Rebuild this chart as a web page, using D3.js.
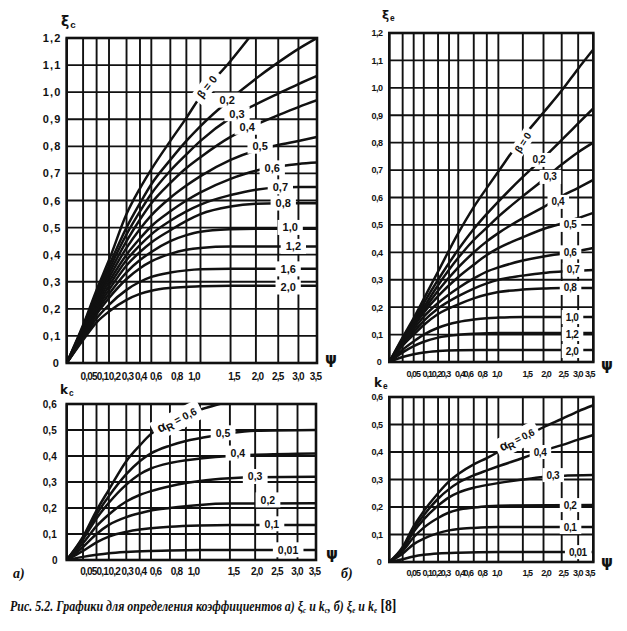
<!DOCTYPE html>
<html><head><meta charset="utf-8">
<script src="https://cdn.jsdelivr.net/npm/d3@7"></script>
<style>body{margin:0;background:#fff}svg{display:block}</style>
</head><body>
<svg id="c" width="627" height="631"></svg>
<script>
// ---------- shared axis data ----------
const psiGrid = [0, 0.015, 0.05, 0.1, 0.2, 0.3, 0.4, 0.6, 0.8, 1.0, 1.5, 2.0, 2.5, 3.0, 3.5];
const psiTicks = [0.05, 0.1, 0.2, 0.3, 0.4, 0.6, 0.8, 1.0, 1.5, 2.0, 2.5, 3.0, 3.5];
const psiTickLabels = ["0,05","0,1","0,2","0,3","0,4","0,6","0,8","1,0","1,5","2,0","2,5","3,0","3,5"];
const xiTicks = [0, 0.1, 0.2, 0.3, 0.4, 0.5, 0.6, 0.7, 0.8, 0.9, 1.0, 1.1, 1.2];
const xiTickLabelsA = ["0","0,1","0,2","0,3","0,4","0,5","0,6","0,7","0,8","0,9","1,0","1,1","1,2"];
const kTicks = [0, 0.1, 0.2, 0.3, 0.4, 0.5, 0.6];
const kTickLabels = ["0","0,1","0,2","0,3","0,4","0,5","0,6"];

// ---------- a) xi_c curves (beta) ----------
const xiCLabels = ["β = 0","0,2","0,3","0,4","0,5","0,6","0,7","0,8","1,0","1,2","1,6","2,0"];
const xiCLabelAt = [[1.10,1.02],[1.44,0.97],[1.62,0.92],[1.82,0.87],[2.09,0.80],[2.36,0.72],[2.55,0.65],[2.62,0.59],[2.79,0.50],[2.87,0.43],[2.74,0.347],[2.74,0.28]];
const xiC_b00 = [[0,0],[0.015,0.14],[0.05,0.27],[0.1,0.38],[0.2,0.55],[0.3,0.645],[0.4,0.715],[0.6,0.82],[0.8,0.905],[1.0,0.985],[1.5,1.115],[1.9,1.21]];
const xiC_b02 = [[0,0],[0.015,0.135],[0.05,0.26],[0.1,0.36],[0.2,0.5],[0.3,0.59],[0.4,0.66],[0.6,0.75],[0.8,0.82],[1.0,0.875],[1.5,0.975],[2.0,1.05],[2.5,1.11],[3.0,1.16],[3.5,1.2]];
const xiC_b03 = [[0,0],[0.015,0.13],[0.05,0.25],[0.1,0.345],[0.2,0.475],[0.3,0.56],[0.4,0.625],[0.6,0.71],[0.8,0.77],[1.0,0.82],[1.5,0.905],[2.0,0.955],[2.5,0.995],[3.0,1.03],[3.5,1.06]];
const xiC_b04 = [[0,0],[0.015,0.125],[0.05,0.24],[0.1,0.33],[0.2,0.45],[0.3,0.53],[0.4,0.59],[0.6,0.665],[0.8,0.72],[1.0,0.76],[1.5,0.835],[2.0,0.88],[2.5,0.915],[3.0,0.945],[3.5,0.97]];
const xiC_b05 = [[0,0],[0.015,0.12],[0.05,0.23],[0.1,0.315],[0.2,0.425],[0.3,0.495],[0.4,0.545],[0.6,0.61],[0.8,0.655],[1.0,0.69],[1.5,0.75],[2.0,0.785],[2.5,0.805],[3.0,0.82],[3.5,0.835]];
const xiC_b06 = [[0,0],[0.015,0.115],[0.05,0.22],[0.1,0.3],[0.2,0.4],[0.3,0.46],[0.4,0.505],[0.6,0.56],[0.8,0.6],[1.0,0.63],[1.5,0.68],[2.0,0.71],[2.5,0.725],[3.0,0.735],[3.5,0.74]];
const xiC_b07 = [[0,0],[0.015,0.11],[0.05,0.21],[0.1,0.285],[0.2,0.38],[0.3,0.435],[0.4,0.475],[0.6,0.525],[0.8,0.56],[1.0,0.585],[1.5,0.62],[2.0,0.64],[2.5,0.648],[3.0,0.65],[3.5,0.65]];
const xiC_b08 = [[0,0],[0.015,0.105],[0.05,0.2],[0.1,0.27],[0.2,0.36],[0.3,0.41],[0.4,0.445],[0.6,0.49],[0.8,0.525],[1.0,0.55],[1.5,0.578],[2.0,0.588],[2.5,0.59],[3.5,0.59]];
const xiC_b10 = [[0,0],[0.015,0.1],[0.05,0.19],[0.1,0.255],[0.2,0.335],[0.3,0.38],[0.4,0.41],[0.6,0.45],[0.8,0.472],[1.0,0.485],[1.5,0.494],[2.0,0.496],[3.5,0.496]];
const xiC_b12 = [[0,0],[0.015,0.095],[0.05,0.18],[0.1,0.24],[0.2,0.31],[0.3,0.35],[0.4,0.375],[0.6,0.403],[0.8,0.418],[1.0,0.425],[1.5,0.43],[3.5,0.43]];
const xiC_b16 = [[0,0],[0.015,0.09],[0.05,0.165],[0.1,0.215],[0.2,0.27],[0.3,0.3],[0.4,0.318],[0.6,0.334],[0.8,0.342],[1.0,0.346],[1.5,0.348],[3.5,0.348]];
const xiC_b20 = [[0,0],[0.015,0.085],[0.05,0.15],[0.1,0.19],[0.2,0.233],[0.3,0.255],[0.4,0.267],[0.6,0.277],[0.8,0.281],[1.0,0.283],[1.5,0.285],[3.5,0.285]];

// ---------- б) xi_e curves (beta) ----------
const xiELabels = ["β = 0","0,2","0,3","0,4","0,5","0,6","0,7","0,8","1,0","1,2","2,0"];
const xiELabelAt = [[1.50,0.80],[1.88,0.737],[2.17,0.675],[2.39,0.584],[2.75,0.5],[2.75,0.40],[2.84,0.336],[2.75,0.27],[2.81,0.164],[2.81,0.102],[2.81,0.04]];
const xiE_b00 = [[0,0],[0.015,0.09],[0.05,0.16],[0.1,0.23],[0.2,0.33],[0.4,0.47],[0.6,0.565],[0.8,0.635],[1.0,0.695],[1.5,0.82],[2.0,0.91],[2.5,0.99],[3.0,1.07],[3.5,1.14]];
const xiE_b02 = [[0,0],[0.015,0.085],[0.05,0.15],[0.1,0.215],[0.2,0.3],[0.4,0.41],[0.6,0.485],[0.8,0.54],[1.0,0.585],[1.5,0.675],[2.0,0.745],[2.5,0.81],[3.0,0.87],[3.5,0.925]];
const xiE_b03 = [[0,0],[0.015,0.08],[0.05,0.145],[0.1,0.2],[0.2,0.28],[0.4,0.38],[0.6,0.445],[0.8,0.49],[1.0,0.53],[1.5,0.605],[2.0,0.665],[2.5,0.72],[3.0,0.765],[3.5,0.80]];
const xiE_b04 = [[0,0],[0.015,0.078],[0.05,0.14],[0.1,0.19],[0.2,0.26],[0.4,0.345],[0.6,0.4],[0.8,0.44],[1.0,0.47],[1.5,0.525],[2.0,0.565],[2.5,0.605],[3.0,0.635],[3.5,0.664]];
const xiE_b05 = [[0,0],[0.015,0.075],[0.05,0.13],[0.1,0.18],[0.2,0.24],[0.4,0.31],[0.6,0.355],[0.8,0.39],[1.0,0.415],[1.5,0.455],[2.0,0.485],[2.5,0.505],[3.0,0.525],[3.5,0.544]];
const xiE_b06 = [[0,0],[0.015,0.07],[0.05,0.12],[0.1,0.165],[0.2,0.215],[0.4,0.27],[0.6,0.305],[0.8,0.33],[1.0,0.345],[1.5,0.37],[2.0,0.385],[2.5,0.395],[3.0,0.405],[3.5,0.416]];
const xiE_b07 = [[0,0],[0.015,0.065],[0.05,0.11],[0.1,0.15],[0.2,0.195],[0.4,0.24],[0.6,0.268],[0.8,0.287],[1.0,0.3],[1.5,0.315],[2.0,0.325],[2.5,0.33],[3.5,0.336]];
const xiE_b08 = [[0,0],[0.015,0.06],[0.05,0.1],[0.1,0.135],[0.2,0.175],[0.4,0.21],[0.6,0.232],[0.8,0.246],[1.0,0.255],[1.5,0.264],[2.0,0.268],[2.5,0.27],[3.5,0.27]];
const xiE_b10 = [[0,0],[0.015,0.045],[0.05,0.075],[0.1,0.1],[0.2,0.125],[0.4,0.146],[0.6,0.155],[0.8,0.16],[1.0,0.162],[1.5,0.164],[3.5,0.164]];
const xiE_b12 = [[0,0],[0.015,0.035],[0.05,0.058],[0.1,0.074],[0.2,0.089],[0.4,0.099],[0.6,0.103],[1.0,0.106],[3.5,0.106]];
const xiE_b20 = [[0,0],[0.015,0.018],[0.05,0.028],[0.1,0.035],[0.2,0.04],[0.4,0.043],[1.0,0.044],[3.5,0.044]];

// ---------- a) k_c curves (alpha_R) ----------
const kCLabels = ["αR","0,5","0,4","0,3","0,2","0,1","0,01"];
const kCLabelAt = [[0.685,0.538],[1.376,0.488],[1.65,0.41],[2.0,0.32],[2.28,0.23],[2.37,0.138],[2.76,0.038]];
const kC_a06 = [[0,0],[0.015,0.09],[0.05,0.19],[0.1,0.27],[0.2,0.38],[0.3,0.44],[0.4,0.485],[0.6,0.53],[0.8,0.56],[1.0,0.578],[1.4,0.605]];
const kC_a05 = [[0,0],[0.015,0.085],[0.05,0.175],[0.1,0.245],[0.2,0.33],[0.3,0.38],[0.4,0.41],[0.6,0.44],[0.8,0.458],[1.0,0.468],[1.5,0.488],[2.0,0.497],[3.5,0.5]];
const kC_a04 = [[0,0],[0.015,0.08],[0.05,0.16],[0.1,0.22],[0.2,0.29],[0.3,0.33],[0.4,0.352],[0.6,0.373],[0.8,0.384],[1.0,0.39],[1.5,0.4],[2.0,0.405],[3.5,0.41]];
const kC_a03 = [[0,0],[0.015,0.065],[0.05,0.13],[0.1,0.175],[0.2,0.225],[0.3,0.25],[0.4,0.265],[0.6,0.284],[0.8,0.296],[1.0,0.304],[1.5,0.314],[2.0,0.318],[3.5,0.32]];
const kC_a02 = [[0,0],[0.015,0.05],[0.05,0.1],[0.1,0.135],[0.2,0.165],[0.3,0.18],[0.4,0.19],[0.6,0.2],[0.8,0.207],[1.0,0.212],[1.5,0.217],[3.5,0.218]];
const kC_a01 = [[0,0],[0.015,0.035],[0.05,0.068],[0.1,0.09],[0.2,0.108],[0.3,0.117],[0.4,0.122],[0.6,0.128],[1.0,0.133],[1.5,0.135],[3.5,0.135]];
const kC_a001 = [[0,0],[0.015,0.012],[0.05,0.02],[0.1,0.026],[0.2,0.031],[0.4,0.035],[0.6,0.037],[1.0,0.038],[3.5,0.038]];

// ---------- б) k_e curves (alpha_R) ----------
const kELabels = ["αR","0,4","0,3","0,2","0,1","0,01"];
const kELabelAt = [[1.37,0.444],[1.91,0.40],[2.25,0.316],[2.75,0.207],[2.75,0.127],[2.99,0.036]];
const kE_a06 = [[0,0],[0.015,0.055],[0.05,0.13],[0.1,0.185],[0.2,0.25],[0.3,0.293],[0.4,0.32],[0.6,0.355],[0.8,0.378],[1.0,0.4],[1.5,0.45],[2.0,0.49],[2.5,0.52],[3.0,0.548],[3.5,0.57]];
const kE_a04 = [[0,0],[0.015,0.05],[0.05,0.12],[0.1,0.17],[0.2,0.23],[0.3,0.265],[0.4,0.288],[0.6,0.315],[0.8,0.333],[1.0,0.348],[1.5,0.378],[2.0,0.405],[2.5,0.425],[3.0,0.445],[3.5,0.462]];
const kE_a03 = [[0,0],[0.015,0.045],[0.05,0.11],[0.1,0.155],[0.2,0.205],[0.3,0.235],[0.4,0.252],[0.6,0.27],[0.8,0.28],[1.0,0.287],[1.5,0.3],[2.0,0.309],[2.5,0.313],[3.5,0.316]];
const kE_a02 = [[0,0],[0.015,0.04],[0.05,0.09],[0.1,0.125],[0.2,0.16],[0.3,0.18],[0.4,0.19],[0.6,0.198],[0.8,0.203],[1.0,0.205],[3.5,0.207]];
const kE_a01 = [[0,0],[0.015,0.03],[0.05,0.065],[0.1,0.085],[0.2,0.105],[0.3,0.115],[0.4,0.12],[0.6,0.124],[1.0,0.127],[3.5,0.127]];
const kE_a001 = [[0,0],[0.015,0.01],[0.05,0.02],[0.1,0.026],[0.2,0.031],[0.4,0.034],[1.0,0.036],[3.5,0.036]];

const svg = d3.select("#c");
const INK = "#111";
let clipN = 0;

// tick-label nudges (crowded scale labels in the original are packed side by side)
const nudgeWide = [-8.6, -7, -12.5, -13, -11, -15, -10, -7, 3, 1, -1, -1, -2];
const nudgeNarrow = [-1, 3, -2, -4, 1, -6, -5, -2, 4, 2, 1, -1, -4];

function panel(cfg) {
  const x = d3.scaleSqrt().domain([0, 3.5]).range([cfg.x0, cfg.x1]);
  const y = d3.scaleLinear().domain([0, cfg.yMax]).range([cfg.y0, cfg.y1]);
  const g = svg.append("g");
  const cid = "clip" + (clipN++);
  g.append("clipPath").attr("id", cid).append("rect")
    .attr("x", cfg.x0).attr("y", cfg.y1).attr("width", cfg.x1 - cfg.x0).attr("height", cfg.y0 - cfg.y1);

  g.append("g").selectAll("line").data(psiGrid).join("line")
    .attr("x1", d => x(d)).attr("x2", d => x(d)).attr("y1", y(0)).attr("y2", y(cfg.yMax))
    .attr("stroke", INK).attr("stroke-width", 1.9);
  g.append("g").selectAll("line").data(cfg.yTicks).join("line")
    .attr("x1", x(0)).attr("x2", x(3.5)).attr("y1", d => y(d)).attr("y2", d => y(d))
    .attr("stroke", INK).attr("stroke-width", 1.9);
  g.append("rect").attr("x", cfg.x0).attr("y", cfg.y1).attr("width", cfg.x1 - cfg.x0).attr("height", cfg.y0 - cfg.y1)
    .attr("fill", "none").attr("stroke", INK).attr("stroke-width", 2.6);

  const line = d3.line().x(d => x(d[0])).y(d => y(d[1])).curve(d3.curveMonotoneX);
  g.append("g").attr("clip-path", `url(#${cid})`).selectAll("path").data(cfg.curves).join("path")
    .attr("d", line).attr("fill", "none").attr("stroke", INK).attr("stroke-width", 2.5)
    .attr("stroke-linecap", "round");

  cfg.labels.forEach((t, i) => {
    const p = cfg.labelAt[i];
    const rot = (i === 0 && cfg.firstRot) ? cfg.firstRot : 0;
    const lg = g.append("g").attr("transform", `translate(${x(p[0])},${y(p[1])}) rotate(${rot})`);
    const rect = lg.append("rect").attr("fill", "#fff");
    const tx = lg.append("text").attr("text-anchor", "middle").attr("dy", "0.35em")
      .attr("font-family", "Liberation Sans, Arial, sans-serif").attr("font-weight", "bold")
      .attr("font-size", cfg.labelSize).attr("fill", INK).attr("letter-spacing", cfg.labelSpacing || 0);
    if (t === "αR") {
      tx.append("tspan").text("α").attr("font-size", cfg.labelSize + 3);
      tx.append("tspan").text("R").attr("dy", "0.3em").attr("font-size", cfg.labelSize);
      tx.append("tspan").text(" = 0,6").attr("dy", "-0.3em");
    } else {
      tx.text(t);
    }
    const b = tx.node().getBBox();
    const px = cfg.padX, py = 1.5;
    rect.attr("x", b.x - px).attr("y", b.y - py).attr("width", b.width + 2 * px).attr("height", b.height + 2 * py);
  });

  const yAxis = d3.axisLeft(y).tickValues(cfg.yTicks).tickFormat((d, i) => cfg.yTickLabels[i]).tickSize(0).tickPadding(cfg.yPad);
  const ya = g.append("g").attr("transform", `translate(${cfg.x0},0)`).call(yAxis);
  ya.select(".domain").remove();
  ya.selectAll("text").attr("font-family", cfg.tickFont).attr("font-weight", "bold")
    .attr("font-size", cfg.yTickSize).attr("letter-spacing", cfg.yTickSpacing).attr("fill", INK);
  ya.selectAll(".tick").filter(d => d === 0).remove();

  const xAxis = d3.axisBottom(x).tickValues(psiTicks).tickFormat((d, i) => psiTickLabels[i]).tickSize(0).tickPadding(cfg.xPad);
  const xa = g.append("g").attr("transform", `translate(0,${cfg.y0})`).call(xAxis);
  xa.select(".domain").remove();
  xa.selectAll("text").attr("font-family", cfg.tickFont).attr("font-weight", "bold")
    .attr("font-size", cfg.xTickSize).attr("letter-spacing", cfg.xTickSpacing).attr("fill", INK)
    .attr("dx", (d, i) => cfg.nudge[i]);

  g.append("text").attr("x", cfg.x0 - cfg.zeroDx).attr("y", cfg.y0 + cfg.zeroDy).text("0")
    .attr("font-family", cfg.tickFont).attr("font-weight", "bold").attr("font-size", cfg.yTickSize).attr("fill", INK)
    .attr("text-anchor", "middle");

  const tt = g.append("text").attr("x", cfg.titleX).attr("y", cfg.titleY)
    .attr("font-family", "DejaVu Sans, sans-serif").attr("font-weight", "bold").attr("fill", INK);
  tt.append("tspan").text(cfg.title[0]).attr("font-size", cfg.titleSize);
  tt.append("tspan").text(cfg.title[1]).attr("font-size", cfg.titleSize * 0.7).attr("dy", "0.25em").attr("dx", 1)
    .attr("font-family", "Liberation Sans, Arial, sans-serif");
  g.append("text").attr("x", cfg.psiX).attr("y", cfg.psiY).text("ψ")
    .attr("font-family", "DejaVu Sans, sans-serif").attr("font-weight", "bold").attr("font-size", 15).attr("fill", INK);
}

const boldTick = "Liberation Sans, Arial, sans-serif";

panel({
  x0: 66.7, x1: 317, y0: 363, y1: 38, yMax: 1.2,
  yTicks: xiTicks, yTickLabels: xiTickLabelsA,
  curves: [xiC_b00, xiC_b02, xiC_b03, xiC_b04, xiC_b05, xiC_b06, xiC_b07, xiC_b08, xiC_b10, xiC_b12, xiC_b16, xiC_b20],
  labels: xiCLabels, labelAt: xiCLabelAt, firstRot: -52, labelSize: 11, padX: 5,
  tickFont: boldTick, yTickSize: 11, yTickSpacing: 1.2, yPad: 5, xTickSize: 10, xTickSpacing: -0.8, xPad: 10,
  nudge: nudgeWide, zeroDx: 11, zeroDy: 4,
  title: ["ξ", "c"], titleX: 61, titleY: 26, titleSize: 14, psiX: 325, psiY: 364
});
panel({
  x0: 389.3, x1: 593.3, y0: 362, y1: 33, yMax: 1.2,
  yTicks: xiTicks, yTickLabels: xiTickLabelsA,
  curves: [xiE_b00, xiE_b02, xiE_b03, xiE_b04, xiE_b05, xiE_b06, xiE_b07, xiE_b08, xiE_b10, xiE_b12, xiE_b20],
  labels: xiELabels, labelAt: xiELabelAt, firstRot: -57, labelSize: 10, padX: 4, labelSpacing: -0.4,
  tickFont: boldTick, yTickSize: 9, yTickSpacing: -0.6, yPad: 7, xTickSize: 9, xTickSpacing: -1, xPad: 9,
  nudge: nudgeNarrow, zeroDx: 10, zeroDy: 3,
  title: ["ξ", "e"], titleX: 382, titleY: 19, titleSize: 12, psiX: 601, psiY: 370
});
panel({
  x0: 66.7, x1: 316, y0: 560, y1: 404, yMax: 0.6,
  yTicks: kTicks, yTickLabels: kTickLabels,
  curves: [kC_a06, kC_a05, kC_a04, kC_a03, kC_a02, kC_a01, kC_a001],
  labels: kCLabels, labelAt: kCLabelAt, firstRot: -27, labelSize: 10.5, padX: 5,
  tickFont: boldTick, yTickSize: 10, yTickSpacing: 0, yPad: 10, xTickSize: 10, xTickSpacing: -0.8, xPad: 8,
  nudge: nudgeWide, zeroDx: 12, zeroDy: 4,
  title: ["k", "c"], titleX: 60, titleY: 394, titleSize: 12, psiX: 326, psiY: 559
});
panel({
  x0: 389.3, x1: 593.3, y0: 562, y1: 397, yMax: 0.6,
  yTicks: kTicks, yTickLabels: kTickLabels,
  curves: [kE_a06, kE_a04, kE_a03, kE_a02, kE_a01, kE_a001],
  labels: kELabels, labelAt: kELabelAt, firstRot: -27, labelSize: 10, padX: 4, labelSpacing: -0.4,
  tickFont: boldTick, yTickSize: 9, yTickSpacing: -0.6, yPad: 7, xTickSize: 9, xTickSpacing: -1, xPad: 8,
  nudge: nudgeNarrow, zeroDx: 10, zeroDy: 3,
  title: ["k", "e"], titleX: 374, titleY: 387, titleSize: 12, psiX: 601, psiY: 567
});

svg.append("text").attr("x", 13).attr("y", 578).text("а)")
  .attr("font-family", "Liberation Serif, Times New Roman, serif").attr("font-style", "italic").attr("font-weight", "bold").attr("font-size", 14).attr("fill", INK);
svg.append("text").attr("x", 341).attr("y", 578).text("б)")
  .attr("font-family", "Liberation Serif, Times New Roman, serif").attr("font-style", "italic").attr("font-weight", "bold").attr("font-size", 14).attr("fill", INK);

// caption
const cap = svg.append("text").attr("x", 0).attr("y", 0)
  .attr("font-family", "Liberation Serif, Times New Roman, serif").attr("font-style", "italic").attr("font-weight", "bold")
  .attr("font-size", 14).attr("fill", INK);
cap.append("tspan").text("Рис. 5.2. Графики для определения коэффициентов а) ξ");
cap.append("tspan").text("с").attr("font-size", 8).attr("dy", 2);
cap.append("tspan").text(" и k").attr("dy", -2);
cap.append("tspan").text("с").attr("font-size", 8).attr("dy", 2);
cap.append("tspan").text(", б) ξ").attr("dy", -2);
cap.append("tspan").text("е").attr("font-size", 8).attr("dy", 2);
cap.append("tspan").text(" и k").attr("dy", -2);
cap.append("tspan").text("е").attr("font-size", 8).attr("dy", 2);
cap.append("tspan").text(" [8]").attr("dy", -2).attr("font-style", "normal").attr("font-size", 16);
const cw = cap.node().getBBox().width;
cap.attr("transform", `translate(10,611) scale(${387 / cw},1)`);
</script>
</body></html>
